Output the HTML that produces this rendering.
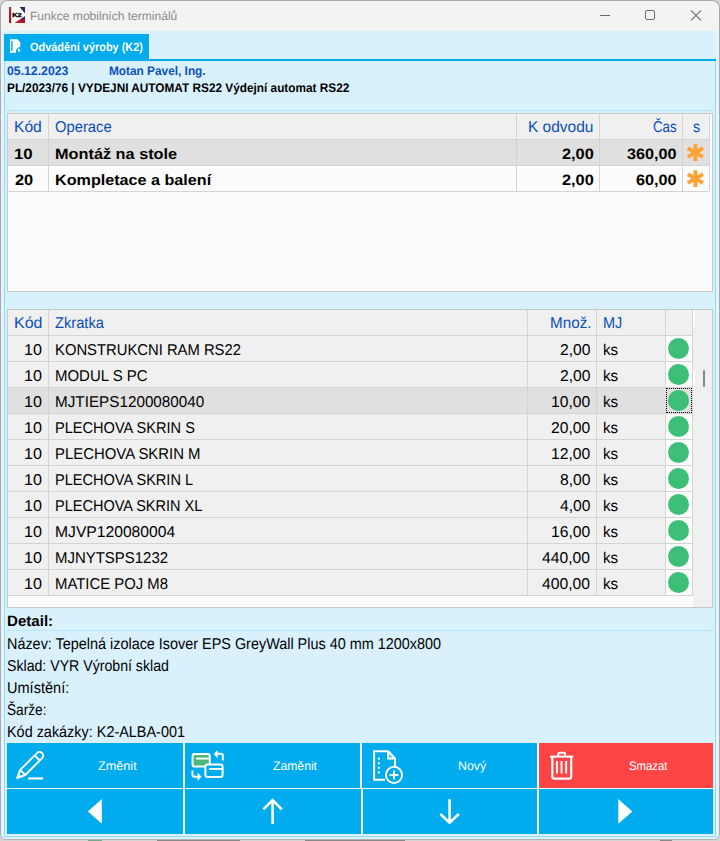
<!DOCTYPE html>
<html><head><meta charset="utf-8"><title>Funkce mobilních terminálů</title>
<style>
html,body{margin:0;padding:0}
body{width:720px;height:841px;overflow:hidden;position:relative;background:#d4d4d4;font-family:"Liberation Sans",sans-serif}
body>div,body>svg{position:absolute}
.t{white-space:pre;transform-origin:0 0;text-rendering:geometricPrecision}
</style></head><body>
<div style="left:0;top:0;width:720px;height:840px;box-sizing:border-box;border:1px solid #a9a9a9;border-bottom-color:#b4b4b4;border-radius:8px 8px 6px 6px;background:#e2f5fe"></div>
<div style="left:1px;top:1px;width:718px;height:30px;background:#f3f3f3;border-radius:7px 7px 0 0"></div>
<div style="left:1px;top:31px;width:718px;height:808px;background:#d9f1fd;border-radius:0 0 5px 5px"></div>
<div style="left:1px;top:31px;width:3px;height:808px;background:#e3f5fe;"></div>
<div style="left:716px;top:31px;width:3px;height:808px;background:#e3f5fe;"></div>
<div style="left:1px;top:837px;width:718px;height:2px;background:#d9f1fd;"></div>
<div style="left:4px;top:34px;width:145px;height:25px;background:#00abee;"></div>
<div style="left:149px;top:34px;width:1px;height:25px;background:#ffffff;"></div>
<div style="left:4px;top:59px;width:712px;height:2px;background:#00abee;"></div>
<div style="left:4px;top:61px;width:1px;height:776px;background:#96d9fb;"></div>
<div style="left:715px;top:61px;width:1px;height:776px;background:#96d9fb;"></div>
<div style="left:4px;top:836px;width:712px;height:1px;background:#96d9fb;"></div>
<div style="left:7px;top:110px;width:706px;height:1px;background:#b6e5fc;"></div>
<div style="left:7px;top:113px;width:706px;height:179px;background:#fcfcfc;box-sizing:border-box;border:1px solid #c8c8c8"></div>
<div style="left:8px;top:114px;width:701px;height:25px;background:#f0f0f0;"></div>
<div style="left:8px;top:140px;width:701px;height:25px;background:#e0e0e0;"></div>
<div style="left:8px;top:139px;width:701px;height:1px;background:#d4d4d4;"></div>
<div style="left:8px;top:165px;width:701px;height:1px;background:#d4d4d4;"></div>
<div style="left:8px;top:191px;width:701px;height:1px;background:#d4d4d4;"></div>
<div style="left:48px;top:114px;width:1px;height:77px;background:#d4d4d4;"></div>
<div style="left:516px;top:114px;width:1px;height:77px;background:#d4d4d4;"></div>
<div style="left:599px;top:114px;width:1px;height:77px;background:#d4d4d4;"></div>
<div style="left:682px;top:114px;width:1px;height:77px;background:#d4d4d4;"></div>
<div style="left:709px;top:114px;width:1px;height:77px;background:#d4d4d4;"></div>
<div style="left:7px;top:309px;width:706px;height:299px;background:#fcfcfc;box-sizing:border-box;border:1px solid #c8c8c8"></div>
<div style="left:8px;top:310px;width:685px;height:25px;background:#f0f0f0;"></div>
<div style="left:8px;top:336px;width:657px;height:25px;background:#f0f0f0;"></div>
<div style="left:8px;top:361px;width:685px;height:1px;background:#d4d4d4;"></div>
<div style="left:8px;top:362px;width:657px;height:25px;background:#f0f0f0;"></div>
<div style="left:8px;top:387px;width:685px;height:1px;background:#d4d4d4;"></div>
<div style="left:8px;top:388px;width:684px;height:25px;background:#e0e0e0;"></div>
<div style="left:8px;top:413px;width:685px;height:1px;background:#d4d4d4;"></div>
<div style="left:8px;top:414px;width:657px;height:25px;background:#f0f0f0;"></div>
<div style="left:8px;top:439px;width:685px;height:1px;background:#d4d4d4;"></div>
<div style="left:8px;top:440px;width:657px;height:25px;background:#f0f0f0;"></div>
<div style="left:8px;top:465px;width:685px;height:1px;background:#d4d4d4;"></div>
<div style="left:8px;top:466px;width:657px;height:25px;background:#f0f0f0;"></div>
<div style="left:8px;top:491px;width:685px;height:1px;background:#d4d4d4;"></div>
<div style="left:8px;top:492px;width:657px;height:25px;background:#f0f0f0;"></div>
<div style="left:8px;top:517px;width:685px;height:1px;background:#d4d4d4;"></div>
<div style="left:8px;top:518px;width:657px;height:25px;background:#f0f0f0;"></div>
<div style="left:8px;top:543px;width:685px;height:1px;background:#d4d4d4;"></div>
<div style="left:8px;top:544px;width:657px;height:25px;background:#f0f0f0;"></div>
<div style="left:8px;top:569px;width:685px;height:1px;background:#d4d4d4;"></div>
<div style="left:8px;top:570px;width:657px;height:25px;background:#f0f0f0;"></div>
<div style="left:8px;top:595px;width:685px;height:1px;background:#d4d4d4;"></div>
<div style="left:8px;top:335px;width:685px;height:1px;background:#d4d4d4;"></div>
<div style="left:48px;top:310px;width:1px;height:286px;background:#d4d4d4;"></div>
<div style="left:527px;top:310px;width:1px;height:286px;background:#d4d4d4;"></div>
<div style="left:596px;top:310px;width:1px;height:286px;background:#d4d4d4;"></div>
<div style="left:665px;top:310px;width:1px;height:286px;background:#d4d4d4;"></div>
<div style="left:692px;top:310px;width:1px;height:286px;background:#d4d4d4;"></div>
<div style="left:665px;top:388px;width:1px;height:25px;background:#e0e0e0;"></div>
<div style="left:693px;top:310px;width:19px;height:297px;background:#f0f0f0;"></div>
<div style="left:693px;top:310px;width:2px;height:17px;background:#fcfcfc;"></div>
<div style="left:693px;top:370px;width:2px;height:17px;background:#fcfcfc;"></div>
<div style="left:703px;top:370px;width:2px;height:17px;background:#868686;border-radius:1px"></div>
<div style="left:666px;top:388px;width:26px;height:25px;box-sizing:border-box;border:1px dotted #000"></div>
<div style="left:668px;top:338.0px;width:21px;height:21px;border-radius:50%;background:#3dbf78"></div>
<div style="left:668px;top:364.0px;width:21px;height:21px;border-radius:50%;background:#3dbf78"></div>
<div style="left:668px;top:390.0px;width:21px;height:21px;border-radius:50%;background:#3dbf78"></div>
<div style="left:668px;top:416.0px;width:21px;height:21px;border-radius:50%;background:#3dbf78"></div>
<div style="left:668px;top:442.0px;width:21px;height:21px;border-radius:50%;background:#3dbf78"></div>
<div style="left:668px;top:468.0px;width:21px;height:21px;border-radius:50%;background:#3dbf78"></div>
<div style="left:668px;top:494.0px;width:21px;height:21px;border-radius:50%;background:#3dbf78"></div>
<div style="left:668px;top:520.0px;width:21px;height:21px;border-radius:50%;background:#3dbf78"></div>
<div style="left:668px;top:546.0px;width:21px;height:21px;border-radius:50%;background:#3dbf78"></div>
<div style="left:668px;top:572.0px;width:21px;height:21px;border-radius:50%;background:#3dbf78"></div>
<svg style="left:686px;top:143px" width="19" height="20" viewBox="0 0 19 20"><g transform="translate(9.4,9.6)"><g stroke="#fca236" stroke-width="3.9"><line x1="0" y1="-8.4" x2="0" y2="8.4"/><line x1="-7.6" y1="-4.3" x2="7.6" y2="4.3"/><line x1="-7.6" y1="4.3" x2="7.6" y2="-4.3"/></g><circle r="3" fill="#fca236"/></g></svg>
<svg style="left:686px;top:169px" width="19" height="20" viewBox="0 0 19 20"><g transform="translate(9.4,9.6)"><g stroke="#fca236" stroke-width="3.9"><line x1="0" y1="-8.4" x2="0" y2="8.4"/><line x1="-7.6" y1="-4.3" x2="7.6" y2="4.3"/><line x1="-7.6" y1="4.3" x2="7.6" y2="-4.3"/></g><circle r="3" fill="#fca236"/></g></svg>
<div style="left:7px;top:630px;width:706px;height:1px;background:#b6e5fc;"></div>
<div style="left:7px;top:743px;width:706px;height:91px;background:#f0faff;"></div>
<div style="left:7px;top:743px;width:176px;height:45px;background:#00abee;"></div>
<div style="left:185px;top:743px;width:175px;height:45px;background:#00abee;"></div>
<div style="left:362px;top:743px;width:175px;height:45px;background:#00abee;"></div>
<div style="left:539px;top:743px;width:174px;height:45px;background:#fe4546;"></div>
<div style="left:7px;top:789px;width:176px;height:45px;background:#00abee;"></div>
<div style="left:185px;top:789px;width:176px;height:45px;background:#00abee;"></div>
<div style="left:363px;top:789px;width:174px;height:45px;background:#00abee;"></div>
<div style="left:539px;top:789px;width:174px;height:45px;background:#00abee;"></div>
<div style="left:88px;top:840px;width:14px;height:1px;background:#3a8a5a;opacity:.6"></div>
<div style="left:157px;top:840px;width:83px;height:1px;background:#555;opacity:.6"></div>
<div style="left:305px;top:840px;width:100px;height:1px;background:#555;opacity:.6"></div>
<div style="left:660px;top:840px;width:12px;height:1px;background:#555;opacity:.6"></div>
<svg style="left:0;top:833px" width="8" height="8" viewBox="0 0 8 8">
<path d="M0 0 V8 H8 V6.5 H6 A5.5 5.5 0 0 1 0.5 1 V0 Z" fill="#d4d4d4"/>
<path d="M0.5 0 V1 A5.5 5.5 0 0 0 6 6.5 H8" fill="none" stroke="#b4b4b4" stroke-width="1"/>
</svg>
<svg style="left:712px;top:833px" width="8" height="8" viewBox="0 0 8 8">
<path d="M8 0 V8 H0 V6.5 H2 A5.5 5.5 0 0 0 7.5 1 V0 Z" fill="#d4d4d4"/>
<path d="M7.5 0 V1 A5.5 5.5 0 0 1 2 6.5 H0" fill="none" stroke="#b4b4b4" stroke-width="1"/>
</svg>
<svg style="left:9px;top:7px" width="16" height="16" viewBox="0 0 16 16">
<defs><linearGradient id="g1" x1="0" y1="1" x2="1" y2="0"><stop offset="0.35" stop-color="#d0101c"/><stop offset="1" stop-color="#2c2a5a"/></linearGradient>
<linearGradient id="g2" x1="0" y1="0" x2="1" y2="1"><stop offset="0" stop-color="#e02030"/><stop offset="1" stop-color="#8a1020"/></linearGradient></defs>
<rect x="0" y="0" width="16" height="16" fill="#fff"/>
<rect x="0" y="0" width="2.2" height="16" fill="url(#g2)"/>
<polygon points="10.5,0 16,0 16,6.5" fill="#2c2c5c"/>
<polygon points="16,9 16,16 5.5,16" fill="url(#g1)"/>
<text x="3.3" y="9.9" font-family="Liberation Sans" font-weight="700" font-size="5.6" textLength="9.4" lengthAdjust="spacingAndGlyphs" fill="#000" stroke="#000" stroke-width="0.35">K2</text>
</svg>
<svg style="left:595px;top:5px" width="115" height="22" viewBox="595 5 115 22">
<line x1="600" y1="15.5" x2="610" y2="15.5" stroke="#6e6e6e" stroke-width="1"/>
<rect x="645.5" y="10.5" width="9" height="9" rx="1.5" fill="none" stroke="#6e6e6e" stroke-width="1"/>
<path d="M691 10.3 L701 20.3 M701 10.3 L691 20.3" stroke="#6e6e6e" stroke-width="1.05"/>
</svg>
<svg style="left:8px;top:37px" width="16" height="18" viewBox="8 37 16 18">
<path d="M10 39.3 H17.5 L20.3 42.2 V47 A4.6 4.6 0 0 0 16 52.7 H10 Z" fill="#fff"/>
<rect x="11.2" y="41" width="1.4" height="10" fill="#00abee"/>
<polygon points="18,48.2 20.8,50.2 18,52.2" fill="#fff"/>
</svg>
<svg style="left:10px;top:748px" width="38" height="36" viewBox="10 748 38 36">
<g transform="translate(17.2,778.0) rotate(-45)">
<path d="M0 0 L7.8 -3.6 H31.6 A3.6 3.6 0 0 1 31.6 3.6 H7.8 Z" fill="none" stroke="#fff" stroke-width="1.9" stroke-linejoin="round"/>
<path d="M7.8 -3.6 V3.6 M28.3 -3.6 V3.6" fill="none" stroke="#fff" stroke-width="1.9"/>
<path d="M0 0 L3.6 -1.65 V1.65 Z" fill="#fff" stroke="#fff" stroke-width="1" stroke-linejoin="round"/>
</g>
<rect x="28.1" y="777.4" width="15" height="2.1" fill="#fff"/>
</svg>
<svg style="left:188px;top:747px" width="40" height="38" viewBox="188 747 40 38">
<rect x="192.6" y="754" width="17.2" height="12.6" rx="2.2" fill="#4cb877" stroke="#fff" stroke-width="2"/>
<rect x="196" y="757.6" width="13" height="1.9" fill="#fff"/>
<rect x="205.4" y="764.4" width="17.2" height="12.6" rx="2.2" fill="#00abee" stroke="#fff" stroke-width="2"/>
<rect x="209" y="768" width="13" height="1.9" fill="#fff"/>
<path d="M222.8 760.5 V755.5 Q222.8 753.8 221 753.8 H216.5" fill="none" stroke="#fff" stroke-width="1.9"/>
<polygon points="213.8,754 217.6,750 217.6,758.2" fill="#fff"/>
<path d="M192.5 770.5 V775 Q192.5 776.7 194.3 776.7 H198.5" fill="none" stroke="#fff" stroke-width="1.9"/>
<polygon points="201.5,776.8 197.6,772.6 197.6,781" fill="#fff"/>
</svg>
<svg style="left:370px;top:747px" width="36" height="40" viewBox="370 747 36 40">
<path d="M395 766.5 V758.3 L388.3 751.2 H374.1 V779.8 H385" fill="none" stroke="#fff" stroke-width="2"/>
<path d="M388 751.2 V758.5 H395.3" fill="none" stroke="#fff" stroke-width="2"/>
<polygon points="389,753 393.8,758 389,758" fill="#fff" opacity="0.35"/>
<rect x="377.8" y="757.6" width="2" height="2" fill="#fff"/>
<rect x="377.8" y="762.2" width="2" height="2" fill="#fff"/>
<rect x="377.8" y="766.8" width="2" height="2" fill="#fff"/>
<rect x="377.8" y="771.4" width="2" height="2" fill="#fff"/>
<circle cx="394" cy="774.9" r="8.1" fill="#00abee" stroke="#fff" stroke-width="2"/>
<path d="M389.6 774.9 H398.4 M394 770.5 V779.3" stroke="#fff" stroke-width="2"/>
</svg>
<svg style="left:546px;top:748px" width="32" height="36" viewBox="546 748 32 36">
<path d="M550 756.6 H573.2" stroke="#fff" stroke-width="2"/>
<path d="M558.2 756 V754.4 Q558.2 752.8 559.8 752.8 H563.6 Q565.2 752.8 565.2 754.4 V756" fill="none" stroke="#fff" stroke-width="1.9"/>
<path d="M552.3 757 V776.6 Q552.3 778.6 554.3 778.6 H569.2 Q571.2 778.6 571.2 776.6 V757" fill="none" stroke="#fff" stroke-width="2.2"/>
<rect x="556" y="761" width="1.9" height="12.5" fill="#fff"/>
<rect x="560.6" y="761" width="1.9" height="12.5" fill="#fff"/>
<rect x="565.2" y="761" width="1.9" height="12.5" fill="#fff"/>
</svg>
<svg style="left:80px;top:795px" width="30" height="34" viewBox="80 795 30 34">
<polygon points="87.9,811.4 101.8,799 101.8,823.8" fill="#fff"/></svg>
<svg style="left:258px;top:795px" width="30" height="34" viewBox="258 795 30 34">
<path d="M272.6 800.6 V824 M263.4 809.4 L272.6 800.2 L281.8 809.4" fill="none" stroke="#fff" stroke-width="2.6"/></svg>
<svg style="left:435px;top:795px" width="30" height="34" viewBox="435 795 30 34">
<path d="M449.6 799.2 V822.4 M440.4 814 L449.6 822.8 L458.8 814" fill="none" stroke="#fff" stroke-width="2.6"/></svg>
<svg style="left:612px;top:795px" width="30" height="34" viewBox="612 795 30 34">
<polygon points="632.3,811.4 618.3,799 618.3,823.8" fill="#fff"/></svg>
<div class="t" id="t0" style="left:29.54px;top:4.01px;font-size:12px;line-height:24px;font-weight:400;color:#8a8a8a;transform:scaleX(1.0037);transform-origin:0 16.16px">Funkce mobilních terminálů</div>
<div class="t" id="t1" style="left:30.06px;top:35.01px;font-size:12px;line-height:24px;font-weight:700;color:#ffffff;transform:scaleX(0.9106);transform-origin:0 16.16px">Odvádění výroby (K2)</div>
<div class="t" id="t2" style="left:7.11px;top:59.01px;font-size:12.5px;line-height:25.0px;font-weight:700;color:#0d50b8;transform:scaleX(0.9801);transform-origin:0 16.83px">05.12.2023</div>
<div class="t" id="t3" style="left:109.17px;top:59.01px;font-size:12.5px;line-height:25.0px;font-weight:700;color:#0d50b8;transform:scaleX(0.9465);transform-origin:0 16.83px">Motan Pavel, Ing.</div>
<div class="t" id="t4" style="left:7.17px;top:75.51px;font-size:12.5px;line-height:25.0px;font-weight:700;color:#000;transform:scaleX(0.9446);transform-origin:0 16.83px">PL/2023/76 | VYDEJNI AUTOMAT RS22 Výdejní automat RS22</div>
<div class="t" id="t5" style="left:13.75px;top:112.00px;font-size:15.7px;line-height:31.4px;font-weight:400;color:#0a4eb8;transform:scaleX(0.9964);transform-origin:0 21.14px">Kód</div>
<div class="t" id="t6" style="left:54.76px;top:112.00px;font-size:15.7px;line-height:31.4px;font-weight:400;color:#0a4eb8;transform:scaleX(0.9418);transform-origin:0 21.14px">Operace</div>
<div class="t" id="t7" style="left:528.46px;top:112.00px;font-size:15.7px;line-height:31.4px;font-weight:400;color:#0a4eb8;transform:scaleX(0.9866);transform-origin:0 21.14px">K odvodu</div>
<div class="t" id="t8" style="left:652.83px;top:112.00px;font-size:15.7px;line-height:31.4px;font-weight:400;color:#0a4eb8;transform:scaleX(0.8480);transform-origin:0 21.14px">Čas</div>
<div class="t" id="t9" style="left:692.77px;top:112.00px;font-size:15.7px;line-height:31.4px;font-weight:400;color:#0a4eb8;transform:scaleX(0.9036);transform-origin:0 21.14px">s</div>
<div class="t" id="t10" style="left:13.99px;top:140.01px;font-size:15px;line-height:30px;font-weight:700;color:#000;transform:scaleX(1.1221);transform-origin:0 20.20px">10</div>
<div class="t" id="t11" style="left:54.66px;top:140.01px;font-size:15px;line-height:30px;font-weight:700;color:#000;transform:scaleX(1.0856);transform-origin:0 20.20px">Montáž na stole</div>
<div class="t" id="t12" style="left:561.91px;top:140.01px;font-size:15px;line-height:30px;font-weight:700;color:#000;transform:scaleX(1.0873);transform-origin:0 20.20px">2,00</div>
<div class="t" id="t13" style="left:627.18px;top:140.01px;font-size:15px;line-height:30px;font-weight:700;color:#000;transform:scaleX(1.0778);transform-origin:0 20.20px">360,00</div>
<div class="t" id="t14" style="left:14.51px;top:166.01px;font-size:15px;line-height:30px;font-weight:700;color:#000;transform:scaleX(1.0897);transform-origin:0 20.20px">20</div>
<div class="t" id="t15" style="left:54.67px;top:166.01px;font-size:15px;line-height:30px;font-weight:700;color:#000;transform:scaleX(1.0765);transform-origin:0 20.20px">Kompletace a balení</div>
<div class="t" id="t16" style="left:561.91px;top:166.01px;font-size:15px;line-height:30px;font-weight:700;color:#000;transform:scaleX(1.0873);transform-origin:0 20.20px">2,00</div>
<div class="t" id="t17" style="left:636.05px;top:166.01px;font-size:15px;line-height:30px;font-weight:700;color:#000;transform:scaleX(1.0826);transform-origin:0 20.20px">60,00</div>
<div class="t" id="t18" style="left:14.02px;top:308.00px;font-size:15.7px;line-height:31.4px;font-weight:400;color:#0a4eb8;transform:scaleX(1.0160);transform-origin:0 21.14px">Kód</div>
<div class="t" id="t19" style="left:54.86px;top:308.00px;font-size:15.7px;line-height:31.4px;font-weight:400;color:#0a4eb8;transform:scaleX(0.9342);transform-origin:0 21.14px">Zkratka</div>
<div class="t" id="t20" style="left:549.58px;top:308.00px;font-size:15.7px;line-height:31.4px;font-weight:400;color:#0a4eb8;transform:scaleX(0.9716);transform-origin:0 21.14px">Množ.</div>
<div class="t" id="t21" style="left:602.54px;top:308.00px;font-size:15.7px;line-height:31.4px;font-weight:400;color:#0a4eb8;transform:scaleX(0.9230);transform-origin:0 21.14px">MJ</div>
<div class="t" id="t22" style="left:24.01px;top:335.00px;font-size:15.7px;line-height:31.4px;font-weight:400;color:#000;transform:scaleX(1.0294);transform-origin:0 21.14px">10</div>
<div class="t" id="t23" style="left:54.71px;top:335.00px;font-size:15.7px;line-height:31.4px;font-weight:400;color:#000;transform:scaleX(0.9439);transform-origin:0 21.14px">KONSTRUKCNI RAM RS22</div>
<div class="t" id="t24" style="left:559.72px;top:335.00px;font-size:15.7px;line-height:31.4px;font-weight:400;color:#000;transform:scaleX(0.9999);transform-origin:0 21.14px">2,00</div>
<div class="t" id="t25" style="left:602.64px;top:335.00px;font-size:15.7px;line-height:31.4px;font-weight:400;color:#000;transform:scaleX(0.9661);transform-origin:0 21.14px">ks</div>
<div class="t" id="t26" style="left:24.01px;top:361.00px;font-size:15.7px;line-height:31.4px;font-weight:400;color:#000;transform:scaleX(1.0294);transform-origin:0 21.14px">10</div>
<div class="t" id="t27" style="left:54.70px;top:361.00px;font-size:15.7px;line-height:31.4px;font-weight:400;color:#000;transform:scaleX(0.9544);transform-origin:0 21.14px">MODUL S PC</div>
<div class="t" id="t28" style="left:559.72px;top:361.00px;font-size:15.7px;line-height:31.4px;font-weight:400;color:#000;transform:scaleX(0.9999);transform-origin:0 21.14px">2,00</div>
<div class="t" id="t29" style="left:602.64px;top:361.00px;font-size:15.7px;line-height:31.4px;font-weight:400;color:#000;transform:scaleX(0.9661);transform-origin:0 21.14px">ks</div>
<div class="t" id="t30" style="left:24.01px;top:387.00px;font-size:15.7px;line-height:31.4px;font-weight:400;color:#000;transform:scaleX(1.0294);transform-origin:0 21.14px">10</div>
<div class="t" id="t31" style="left:54.68px;top:387.00px;font-size:15.7px;line-height:31.4px;font-weight:400;color:#000;transform:scaleX(0.9726);transform-origin:0 21.14px">MJTIEPS1200080040</div>
<div class="t" id="t32" style="left:551.08px;top:387.00px;font-size:15.7px;line-height:31.4px;font-weight:400;color:#000;transform:scaleX(0.9999);transform-origin:0 21.14px">10,00</div>
<div class="t" id="t33" style="left:602.64px;top:387.00px;font-size:15.7px;line-height:31.4px;font-weight:400;color:#000;transform:scaleX(0.9661);transform-origin:0 21.14px">ks</div>
<div class="t" id="t34" style="left:24.01px;top:413.00px;font-size:15.7px;line-height:31.4px;font-weight:400;color:#000;transform:scaleX(1.0294);transform-origin:0 21.14px">10</div>
<div class="t" id="t35" style="left:54.73px;top:413.00px;font-size:15.7px;line-height:31.4px;font-weight:400;color:#000;transform:scaleX(0.9295);transform-origin:0 21.14px">PLECHOVA SKRIN S</div>
<div class="t" id="t36" style="left:551.08px;top:413.00px;font-size:15.7px;line-height:31.4px;font-weight:400;color:#000;transform:scaleX(0.9999);transform-origin:0 21.14px">20,00</div>
<div class="t" id="t37" style="left:602.64px;top:413.00px;font-size:15.7px;line-height:31.4px;font-weight:400;color:#000;transform:scaleX(0.9661);transform-origin:0 21.14px">ks</div>
<div class="t" id="t38" style="left:24.01px;top:439.00px;font-size:15.7px;line-height:31.4px;font-weight:400;color:#000;transform:scaleX(1.0294);transform-origin:0 21.14px">10</div>
<div class="t" id="t39" style="left:54.71px;top:439.00px;font-size:15.7px;line-height:31.4px;font-weight:400;color:#000;transform:scaleX(0.9501);transform-origin:0 21.14px">PLECHOVA SKRIN M</div>
<div class="t" id="t40" style="left:551.08px;top:439.00px;font-size:15.7px;line-height:31.4px;font-weight:400;color:#000;transform:scaleX(0.9999);transform-origin:0 21.14px">12,00</div>
<div class="t" id="t41" style="left:602.64px;top:439.00px;font-size:15.7px;line-height:31.4px;font-weight:400;color:#000;transform:scaleX(0.9661);transform-origin:0 21.14px">ks</div>
<div class="t" id="t42" style="left:24.01px;top:465.00px;font-size:15.7px;line-height:31.4px;font-weight:400;color:#000;transform:scaleX(1.0294);transform-origin:0 21.14px">10</div>
<div class="t" id="t43" style="left:54.73px;top:465.00px;font-size:15.7px;line-height:31.4px;font-weight:400;color:#000;transform:scaleX(0.9279);transform-origin:0 21.14px">PLECHOVA SKRIN L</div>
<div class="t" id="t44" style="left:559.72px;top:465.00px;font-size:15.7px;line-height:31.4px;font-weight:400;color:#000;transform:scaleX(0.9999);transform-origin:0 21.14px">8,00</div>
<div class="t" id="t45" style="left:602.64px;top:465.00px;font-size:15.7px;line-height:31.4px;font-weight:400;color:#000;transform:scaleX(0.9661);transform-origin:0 21.14px">ks</div>
<div class="t" id="t46" style="left:24.01px;top:491.00px;font-size:15.7px;line-height:31.4px;font-weight:400;color:#000;transform:scaleX(1.0294);transform-origin:0 21.14px">10</div>
<div class="t" id="t47" style="left:54.74px;top:491.00px;font-size:15.7px;line-height:31.4px;font-weight:400;color:#000;transform:scaleX(0.9250);transform-origin:0 21.14px">PLECHOVA SKRIN XL</div>
<div class="t" id="t48" style="left:559.72px;top:491.00px;font-size:15.7px;line-height:31.4px;font-weight:400;color:#000;transform:scaleX(0.9999);transform-origin:0 21.14px">4,00</div>
<div class="t" id="t49" style="left:602.64px;top:491.00px;font-size:15.7px;line-height:31.4px;font-weight:400;color:#000;transform:scaleX(0.9661);transform-origin:0 21.14px">ks</div>
<div class="t" id="t50" style="left:24.01px;top:517.00px;font-size:15.7px;line-height:31.4px;font-weight:400;color:#000;transform:scaleX(1.0294);transform-origin:0 21.14px">10</div>
<div class="t" id="t51" style="left:54.65px;top:517.00px;font-size:15.7px;line-height:31.4px;font-weight:400;color:#000;transform:scaleX(0.9984);transform-origin:0 21.14px">MJVP120080004</div>
<div class="t" id="t52" style="left:551.08px;top:517.00px;font-size:15.7px;line-height:31.4px;font-weight:400;color:#000;transform:scaleX(0.9999);transform-origin:0 21.14px">16,00</div>
<div class="t" id="t53" style="left:602.64px;top:517.00px;font-size:15.7px;line-height:31.4px;font-weight:400;color:#000;transform:scaleX(0.9661);transform-origin:0 21.14px">ks</div>
<div class="t" id="t54" style="left:24.01px;top:543.00px;font-size:15.7px;line-height:31.4px;font-weight:400;color:#000;transform:scaleX(1.0294);transform-origin:0 21.14px">10</div>
<div class="t" id="t55" style="left:54.70px;top:543.00px;font-size:15.7px;line-height:31.4px;font-weight:400;color:#000;transform:scaleX(0.9533);transform-origin:0 21.14px">MJNYTSPS1232</div>
<div class="t" id="t56" style="left:542.29px;top:543.00px;font-size:15.7px;line-height:31.4px;font-weight:400;color:#000;transform:scaleX(0.9999);transform-origin:0 21.14px">440,00</div>
<div class="t" id="t57" style="left:602.64px;top:543.00px;font-size:15.7px;line-height:31.4px;font-weight:400;color:#000;transform:scaleX(0.9661);transform-origin:0 21.14px">ks</div>
<div class="t" id="t58" style="left:24.01px;top:569.00px;font-size:15.7px;line-height:31.4px;font-weight:400;color:#000;transform:scaleX(1.0294);transform-origin:0 21.14px">10</div>
<div class="t" id="t59" style="left:54.71px;top:569.00px;font-size:15.7px;line-height:31.4px;font-weight:400;color:#000;transform:scaleX(0.9482);transform-origin:0 21.14px">MATICE POJ M8</div>
<div class="t" id="t60" style="left:542.29px;top:569.00px;font-size:15.7px;line-height:31.4px;font-weight:400;color:#000;transform:scaleX(0.9999);transform-origin:0 21.14px">400,00</div>
<div class="t" id="t61" style="left:602.64px;top:569.00px;font-size:15.7px;line-height:31.4px;font-weight:400;color:#000;transform:scaleX(0.9661);transform-origin:0 21.14px">ks</div>
<div class="t" id="t62" style="left:6.74px;top:607.01px;font-size:15px;line-height:30px;font-weight:700;color:#000;transform:scaleX(1.0058);transform-origin:0 20.20px">Detail:</div>
<div class="t" id="t63" style="left:6.55px;top:629.00px;font-size:15.7px;line-height:31.4px;font-weight:400;color:#000;transform:scaleX(0.9182);transform-origin:0 21.14px">Název: Tepelná izolace Isover EPS GreyWall Plus 40 mm 1200x800</div>
<div class="t" id="t64" style="left:6.99px;top:651.00px;font-size:15.7px;line-height:31.4px;font-weight:400;color:#000;transform:scaleX(0.9012);transform-origin:0 21.14px">Sklad: VYR Výrobní sklad</div>
<div class="t" id="t65" style="left:6.54px;top:673.00px;font-size:15.7px;line-height:31.4px;font-weight:400;color:#000;transform:scaleX(0.9267);transform-origin:0 21.14px">Umístění:</div>
<div class="t" id="t66" style="left:7.02px;top:695.00px;font-size:15.7px;line-height:31.4px;font-weight:400;color:#000;transform:scaleX(0.8709);transform-origin:0 21.14px">Šarže:</div>
<div class="t" id="t67" style="left:6.55px;top:717.00px;font-size:15.7px;line-height:31.4px;font-weight:400;color:#000;transform:scaleX(0.9192);transform-origin:0 21.14px">Kód zakázky: K2-ALBA-001</div>
<div class="t" id="t68" style="left:97.62px;top:754.01px;font-size:12.5px;line-height:25.0px;font-weight:400;color:#fff;transform:scaleX(1.0132);transform-origin:0 16.83px">Změnit</div>
<div class="t" id="t69" style="left:272.93px;top:754.01px;font-size:12.5px;line-height:25.0px;font-weight:400;color:#fff;transform:scaleX(0.9743);transform-origin:0 16.83px">Zaměnit</div>
<div class="t" id="t70" style="left:457.71px;top:754.01px;font-size:12.5px;line-height:25.0px;font-weight:400;color:#fff;transform:scaleX(0.9900);transform-origin:0 16.83px">Nový</div>
<div class="t" id="t71" style="left:628.53px;top:754.01px;font-size:12.5px;line-height:25.0px;font-weight:400;color:#fff;transform:scaleX(0.9081);transform-origin:0 16.83px">Smazat</div>
</body></html>
